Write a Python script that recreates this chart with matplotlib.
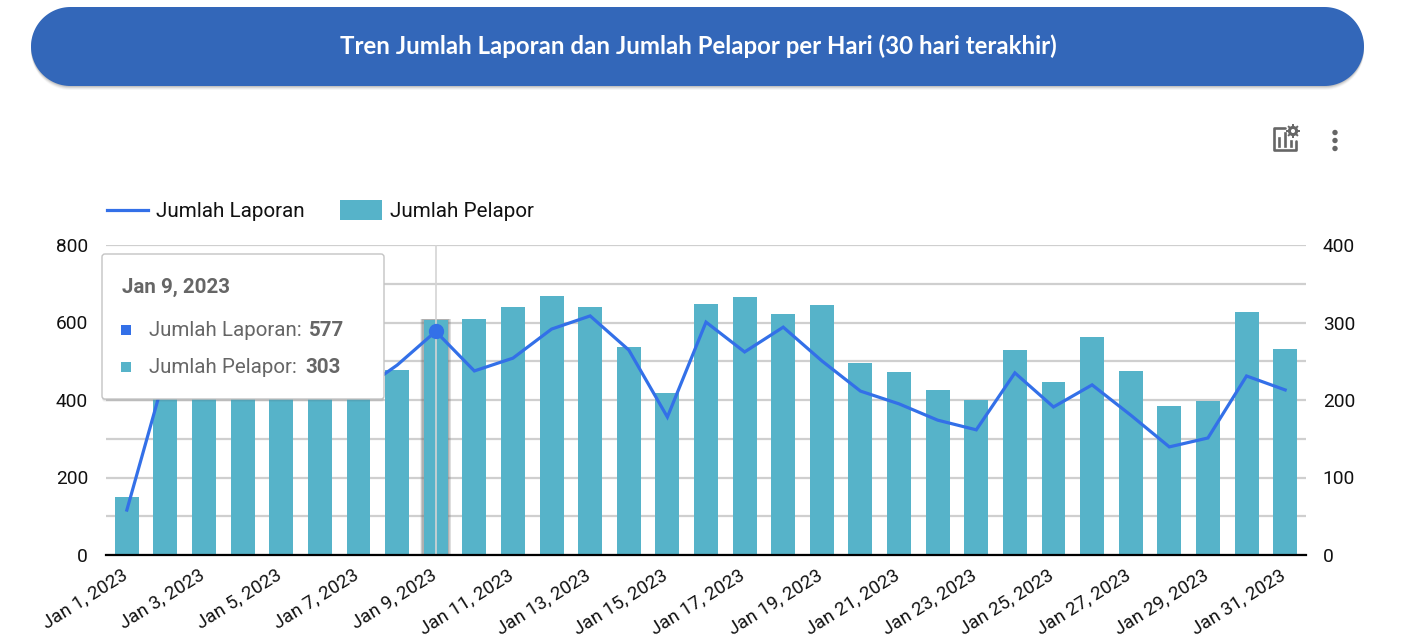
import numpy as np
import matplotlib
matplotlib.use("Agg")
import matplotlib.pyplot as plt
from matplotlib.patches import FancyBboxPatch, Circle, Rectangle, Polygon
from matplotlib.transforms import ScaledTranslation

plt.rcParams['font.family'] = ['Roboto', 'DejaVu Sans']

# values, Jan 2 - Jan 7 are partly behind the tooltip
days = [f"Jan {d}, 2023" for d in range(1, 32)]
laporan = [116, 470, 455, 440, 462, 450, 420, 490, 577, 475, 508, 583, 617, 529, 356, 601,
           524, 588, 501, 423, 390, 348, 323, 470, 382, 439, 361, 279, 302, 462, 426]
pelapor = [75, 232, 225, 218, 240, 228, 235, 239, 303, 305, 320, 334, 320, 268, 209, 324,
           333, 311, 323, 248, 236, 213, 200, 265, 223, 281, 237, 192, 199, 314, 266]

left_ticks = [0, 200, 400, 600, 800]
right_ticks = [0, 100, 200, 300, 400]
hover_idx = 8

line_col = '#3370e8'
bar_col = '#56b3c9'
grid_col = '#cfcfcf'
text_grey = '#666666'

W, H = 1402, 644
fig = plt.figure(figsize=(W / 100, H / 100), dpi=100)

ax2 = fig.add_axes([106 / W, (H - 555) / H, 1200 / W, 310 / H])
ax = ax2.twinx()
x = np.arange(len(days))

# right axis holds the bars, left axis the line
ax2.set_axisbelow(True)
for w, al in [(0.80, 0.10), (0.77, 0.15), (0.74, 0.2), (0.70, 0.3)]:
    ax2.bar(hover_idx, pelapor[hover_idx] + 2, width=w, color='#777777', alpha=al, zorder=2)
ax2.bar(x, pelapor, width=0.62, color=bar_col, zorder=3)
ax2.set_xlim(-0.54, 30.54)
ax2.set_ylim(0, 400)
ax2.set_yticks(right_ticks)
ax2.yaxis.tick_right()
ax2.set_yticks([50, 150, 250, 350], minor=True)
ax2.grid(True, axis='y', which='both', color=grid_col, lw=1.6)
ax2.tick_params(axis='y', which='both', length=0, labelsize=13.8, pad=12, labelcolor='#111111')
ax2.set_xticks(x[::2])
ax2.set_xticklabels(days[::2], rotation=32, ha='right', rotation_mode='anchor', fontsize=13.5,
                    color='#111111')
ax2.tick_params(axis='x', length=0, pad=8)
# labels sit a little left of the bar centres
shift = ScaledTranslation(-6 / 100, 0, fig.dpi_scale_trans)
for lab in ax2.get_xticklabels():
    lab.set_transform(lab.get_transform() + shift)

ax.set_ylim(0, 800)
ax.set_yticks(left_ticks)
ax.yaxis.tick_left()
ax.tick_params(axis='y', length=0, labelsize=13.8, pad=13, labelcolor='#111111')
ax.patch.set_visible(False)
ax.axvline(hover_idx, color='#d4d4d4', lw=1.2, zorder=1)
ax.plot(x, laporan, color=line_col, lw=2.3, zorder=4, solid_joinstyle='miter')
ax.plot(hover_idx, laporan[hover_idx], 'o', color=line_col, ms=10, zorder=5)
for a in (ax, ax2):
    for s in a.spines.values():
        s.set_visible(False)
ax.spines['bottom'].set_visible(True)
ax.spines['bottom'].set_color('black')
ax.spines['bottom'].set_linewidth(1.6)

# everything else is placed in pixels on an overlay
ov = fig.add_axes([0, 0, 1, 1], zorder=10)
ov.set_xlim(0, W)
ov.set_ylim(H, 0)
ov.axis('off')


def pill(x0, y0, w, h, **kw):
    r = h / 2
    t = np.linspace(np.pi / 2, 3 * np.pi / 2, 60)
    xs = np.r_[x0 + r + r * np.cos(t), x0 + w - r - r * np.cos(t)]
    ys = np.r_[y0 + r + r * np.sin(t), y0 + r - r * np.sin(t)]
    ov.add_patch(Polygon(np.c_[xs, ys], closed=True, **kw))


# banner
for off, al in [(4, 0.05), (3, 0.08), (2, 0.12), (1, 0.15)]:
    pill(31, 7 + off, 1333, 79, fc='#555555', ec='none', alpha=al)
pill(31, 7, 1333, 79, fc='#3367b9', ec='none')
ov.text(698, 46, "Tren Jumlah Laporan dan Jumlah Pelapor per Hari (30 hari terakhir)",
        color='white', fontsize=17.3, fontweight='bold', ha='center', va='center', family='Lato')

# chart icons
ic = '#666666'
ov.plot([1285, 1273.5, 1273.5, 1295.5, 1295.5], [127.5, 127.5, 150, 150, 141], color=ic, lw=1.9,
        solid_capstyle='round', solid_joinstyle='round')
ov.plot([1279, 1279], [138, 146], color=ic, lw=1.9)
ov.plot([1285, 1285], [133, 146], color=ic, lw=1.9)
ov.plot([1291, 1291], [141, 146], color=ic, lw=1.9)
ov.add_patch(Circle((1293, 131), 3.6, fc='none', ec=ic, lw=2.2))
for ang in np.arange(0, 360, 45):
    ov.plot([1293 + 4 * np.cos(np.radians(ang)), 1293 + 6 * np.cos(np.radians(ang))],
            [131 + 4 * np.sin(np.radians(ang)), 131 + 6 * np.sin(np.radians(ang))], color=ic, lw=1.4)
for gy in [132.5, 140.5, 148.5]:
    ov.add_patch(Circle((1335, gy), 2.7, fc=ic, ec='none'))

# legend
ov.plot([107, 148], [210, 210], color=line_col, lw=2.3)
ov.text(156, 211, "Jumlah Laporan", fontsize=14.9, va='center', color='#111111')
ov.add_patch(Rectangle((340, 200), 42, 20, fc=bar_col, ec='none'))
ov.text(390, 211, "Jumlah Pelapor", fontsize=14.9, va='center', color='#111111')

# tooltip
for off, al in [(3, 0.05), (2, 0.08), (1, 0.12)]:
    ov.add_patch(FancyBboxPatch((102, 254 + off), 282, 145, boxstyle="round,pad=0,rounding_size=3",
                                fc='#444444', ec='none', alpha=al))
ov.add_patch(FancyBboxPatch((102, 254), 282, 145, boxstyle="round,pad=0,rounding_size=3",
                            fc='white', ec='#c4c4c4', lw=1.0))
ov.text(122, 287, days[hover_idx], fontsize=14.8, fontweight='bold', color=text_grey, va='center')
ov.add_patch(Rectangle((121, 325), 10, 10, fc=line_col, ec='none'))
ov.add_patch(Rectangle((121, 362), 10, 10, fc=bar_col, ec='none'))
ov.text(149, 330, "Jumlah Laporan:", fontsize=14.8, color=text_grey, va='center')
ov.text(149, 367, "Jumlah Pelapor:", fontsize=14.8, color=text_grey, va='center')
ov.text(309, 330, str(laporan[hover_idx]), fontsize=14.8, fontweight='bold', color=text_grey, va='center')
ov.text(305, 367, str(pelapor[hover_idx]), fontsize=14.8, fontweight='bold', color=text_grey, va='center')

fig.savefig("out.png", dpi=100)
